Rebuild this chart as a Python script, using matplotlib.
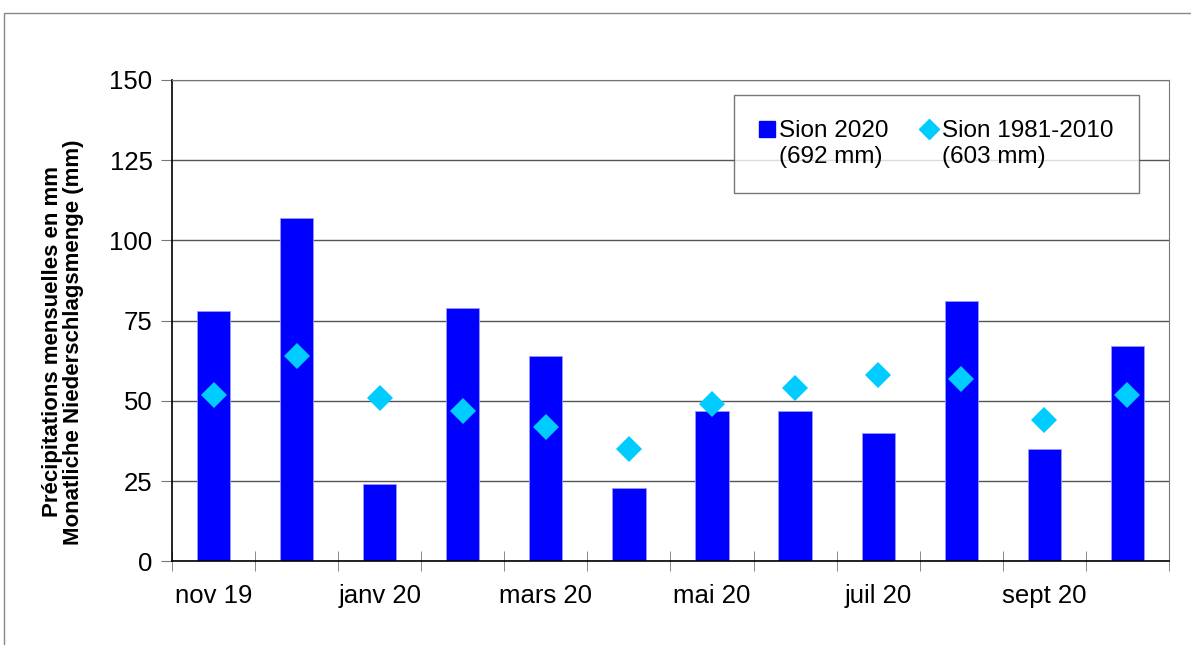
import numpy as np
import matplotlib.pyplot as plt
from matplotlib.lines import Line2D
from matplotlib.patches import Rectangle

plt.rcParams['font.family'] = ['Liberation Sans', 'DejaVu Sans']

months = ['nov 19', 'déc 19', 'janv 20', 'févr 20', 'mars 20', 'avr 20',
          'mai 20', 'juin 20', 'juil 20', 'août 20', 'sept 20', 'oct 20']
sion_2020 = [78, 107, 24, 79, 64, 23, 47, 47, 40, 81, 35, 67]
sion_norm = [52, 64, 51, 47, 42, 35, 49, 54, 58, 57, 44, 52]
y_ticks = [0, 25, 50, 75, 100, 125, 150]

fig = plt.figure(figsize=(11.91, 6.45), dpi=100)
ax = fig.add_axes([0.1444, 0.1295, 0.8371, 0.7465])

x = np.arange(len(months))
ax.bar(x, sion_2020, width=0.4, color='#0000FF', edgecolor='#9999FF', linewidth=0.6, zorder=2)
ax.plot(x, sion_norm, linestyle='none', marker='D', markersize=13.5,
        color='#00CCFF', markeredgewidth=0, zorder=3)

ax.set_xlim(-0.5, len(months) - 0.5)
ax.set_ylim(0, 150)
ax.set_yticks(y_ticks)
ax.yaxis.grid(True, color='#555555', linewidth=1, zorder=0)
ax.set_axisbelow(True)

ax.set_xticks(x[::2], months[::2])
ax.set_xticks(np.arange(-0.5, len(months)), minor=True)
ax.tick_params(axis='x', which='major', length=0, pad=16, labelsize=18.5)
ax.tick_params(axis='x', which='minor', length=15, direction='inout', color='#777777')
ax.tick_params(axis='y', length=8, color='#777777', labelsize=18.5, pad=6)

for s in ['left', 'bottom']:
    ax.spines[s].set_color('black')
    ax.spines[s].set_linewidth(1.2)
for s in ['top', 'right']:
    ax.spines[s].set_color('#777777')

ax.set_ylabel('Précipitations mensuelles en mm\nMonatliche Niederschlagsmenge (mm)',
              fontsize=16, fontweight='bold', labelpad=18, linespacing=1.05)
ax.yaxis.label.set_y(0.456)

blank = Line2D([], [], linestyle='none', marker=None)
h_bar = Line2D([], [], linestyle='none', marker='s', markersize=11, color='#0000FF')
h_dia = Line2D([], [], linestyle='none', marker='D', markersize=10, color='#00CCFF')
leg = ax.legend([h_bar, blank, h_dia, blank],
                ['Sion 2020', '(692 mm)', 'Sion 1981-2010', '(603 mm)'],
                ncol=2, loc='center', bbox_to_anchor=(0.564, 0.767, 0.405, 0.2),
                fontsize=17.5, frameon=True, fancybox=False, handlelength=0.6,
                handletextpad=0.2, labelspacing=0.15, columnspacing=1.4,
                borderpad=1.05)
leg.get_frame().set_edgecolor('#555555')
leg.get_frame().set_linewidth(1)

fig.add_artist(Rectangle((4 / 1191, -0.1), 1.2, 1.1 - 13 / 645,
                         transform=fig.transFigure, fill=False,
                         edgecolor='#888888', linewidth=1))

fig.savefig('out.png', dpi=100)
